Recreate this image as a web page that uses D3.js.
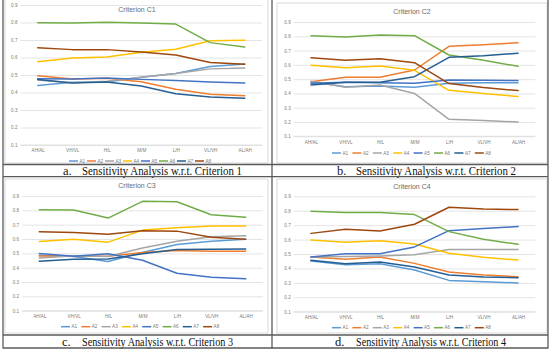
<!DOCTYPE html>
<html><head><meta charset="utf-8">
<script src="https://cdn.jsdelivr.net/npm/d3@7"></script>
<style>
body{margin:0;background:#fff;}
svg{display:block;}
</style></head>
<body>
<script>
// ---------- data ----------
const categories = ["AH/AL","VH/VL","H/L","M/M","L/H","VL/VH","AL/AH"];
const seriesNames = ["A1","A2","A3","A4","A5","A6","A7","A8"];
const seriesColors = ["#5B9BD5","#ED7D31","#A5A5A5","#FFC000","#4472C4","#70AD47","#255E91","#9E480E"];
const yTickValues = [0.1,0.2,0.3,0.4,0.5,0.6,0.7,0.8,0.9];
const chartTitles = ["Criterion C1","Criterion C2","Criterion C3","Criterion C4"];
const captionLetters = ["a.","b.","c.","d."];
const captionTexts = ["Sensitivity Analysis w.r.t. Criterion 1","Sensitivity Analysis w.r.t. Criterion 2",
                      "Sensitivity Analysis w.r.t. Criterion 3","Sensitivity Analysis w.r.t. Criterion 4"];

// values per criterion, one row per alternative A1..A8
const valuesC1 = [
  [0.440,0.458,0.460,0.487,0.508,0.548,0.563],
  [0.496,0.477,0.481,0.462,0.418,0.390,0.382],
  [0.472,0.456,0.464,0.487,0.508,0.535,0.540],
  [0.576,0.597,0.603,0.630,0.647,0.696,0.698],
  [0.479,0.477,0.483,0.475,0.468,0.460,0.454],
  [0.799,0.797,0.801,0.797,0.791,0.685,0.660],
  [0.474,0.454,0.460,0.437,0.393,0.374,0.367],
  [0.656,0.645,0.645,0.631,0.614,0.572,0.561]
];
const valuesC2 = [
  [0.482,0.447,0.452,0.443,0.471,0.475,0.475],
  [0.482,0.513,0.513,0.564,0.730,0.741,0.755],
  [0.485,0.443,0.459,0.400,0.219,0.210,0.200],
  [0.597,0.580,0.592,0.562,0.422,0.400,0.378],
  [0.471,0.478,0.475,0.471,0.494,0.492,0.490],
  [0.804,0.795,0.809,0.804,0.669,0.632,0.590],
  [0.459,0.478,0.478,0.517,0.653,0.664,0.681],
  [0.650,0.632,0.643,0.615,0.469,0.441,0.420]
];
const valuesC3 = [
  [0.487,0.478,0.443,0.506,0.562,0.585,0.599],
  [0.482,0.482,0.480,0.506,0.520,0.515,0.515],
  [0.468,0.483,0.478,0.538,0.585,0.615,0.622],
  [0.583,0.599,0.578,0.662,0.678,0.690,0.690],
  [0.499,0.480,0.497,0.452,0.361,0.333,0.322],
  [0.804,0.802,0.746,0.863,0.860,0.769,0.751],
  [0.445,0.459,0.461,0.497,0.527,0.529,0.531],
  [0.650,0.646,0.634,0.657,0.655,0.613,0.599]
];
const valuesC4 = [
  [0.451,0.426,0.433,0.389,0.317,0.308,0.299],
  [0.479,0.463,0.479,0.435,0.375,0.354,0.343],
  [0.479,0.482,0.486,0.495,0.532,0.532,0.532],
  [0.597,0.581,0.592,0.569,0.505,0.477,0.458],
  [0.479,0.502,0.502,0.549,0.662,0.676,0.690],
  [0.796,0.787,0.787,0.773,0.655,0.602,0.567],
  [0.456,0.433,0.445,0.410,0.354,0.340,0.336],
  [0.643,0.671,0.660,0.706,0.824,0.812,0.808]
];
const allValues = [valuesC1, valuesC2, valuesC3, valuesC4];

// ---------- layout ----------
const W = 550, H = 352;
const layouts = [
  {box:[5,-2,268,163], x0:20.5, x1:262, yTop:5, yBot:145, titleY:10, titleX:137, legY:161, legX:69, legPitch:18, capY:174.8, capLetterX:63, capTextX:82, capLen:160},
  {box:[277,3,547,163], x0:293.7, x1:535.3, yTop:22, yBot:136.3, titleY:12, titleX:412, legY:153, legX:332, legPitch:20.4, capY:174.8, capLetterX:337, capTextX:356, capLen:160},
  {box:[5,179,268,333], x0:22.1, x1:262.9, yTop:196, yBot:310.7, titleY:186, titleX:137, legY:326.7, legX:61, legPitch:20.3, capY:345.8, capLetterX:62, capTextX:82, capLen:151},
  {box:[277,179,547,333], x0:293.7, x1:535.3, yTop:196.3, yBot:311.7, titleY:187, titleX:412, legY:327.7, legX:332, legPitch:20.4, capY:345.8, capLetterX:335, capTextX:356, capLen:150}
];

const svg = d3.select("body").append("svg").attr("width",W).attr("height",H);
svg.append("rect").attr("width",W).attr("height",H).attr("fill","#fff");

const chartFont = "'Liberation Sans', Arial, sans-serif";
const textGray = "#7a7a7a";

layouts.forEach((L, i) => {
  const g = svg.append("g");
  // chart frame
  g.append("rect").attr("x",L.box[0]).attr("y",L.box[1])
    .attr("width",L.box[2]-L.box[0]).attr("height",L.box[3]-L.box[1])
    .attr("fill","#fff").attr("stroke","#d9d9d9").attr("stroke-width",1);

  const x = d3.scalePoint().domain(categories).range([L.x0, L.x1]).padding(0.5);
  const y = d3.scaleLinear().domain([0.1,0.9]).range([L.yBot, L.yTop]);

  // y axis with gridlines
  const ya = g.append("g").attr("transform",`translate(${L.x0},0)`)
    .call(d3.axisLeft(y).tickValues(yTickValues).tickFormat(d3.format(".1f"))
      .tickSize(-(L.x1-L.x0)).tickPadding(3));
  ya.select(".domain").remove();
  ya.selectAll("line").attr("stroke","#d9d9d9").attr("stroke-width",0.7);
  ya.selectAll("text").attr("fill",textGray).style("font-family",chartFont).style("font-size","4.6px");

  // x axis
  const xa = g.append("g").attr("transform",`translate(0,${L.yBot})`)
    .call(d3.axisBottom(x).tickSize(0).tickPadding(4));
  xa.select(".domain").attr("stroke","#d9d9d9").attr("stroke-width",0.7)
    .attr("d",`M${L.x0},0H${L.x1}`);
  xa.selectAll("text").attr("fill",textGray).style("font-family",chartFont).style("font-size","4.6px");

  // title
  g.append("text").attr("x",L.titleX).attr("y",L.titleY).attr("dy","0.35em")
    .attr("text-anchor","middle").attr("fill","#6a6a6a")
    .style("font-family",chartFont).style("font-size","7px").text(chartTitles[i]);

  // lines
  const line = d3.line().x((d,k)=>x(categories[k])).y(d=>y(d));
  allValues[i].forEach((vals, s) => {
    g.append("path").datum(vals).attr("d",line).attr("fill","none")
      .attr("stroke",seriesColors[s]).attr("stroke-width",1.5)
      .attr("stroke-linejoin","round").attr("stroke-linecap","round");
  });

  // legend
  seriesNames.forEach((nm, s) => {
    const lx = L.legX + s*L.legPitch;
    g.append("line").attr("x1",lx).attr("x2",lx+9).attr("y1",L.legY).attr("y2",L.legY)
      .attr("stroke",seriesColors[s]).attr("stroke-width",1.5);
    g.append("text").attr("x",lx+10.5).attr("y",L.legY).attr("dy","0.35em")
      .attr("fill",textGray).style("font-family",chartFont).style("font-size","4.6px").text(nm);
  });

  // caption
  g.append("text").attr("x",L.capLetterX).attr("y",L.capY).attr("fill","#111")
    .style("font-family","'Liberation Serif','DejaVu Serif',serif").style("font-size","12.5px")
    .text(captionLetters[i]);
  g.append("text").attr("x",L.capTextX).attr("y",L.capY).attr("fill","#111")
    .attr("textLength",L.capLen).attr("lengthAdjust","spacingAndGlyphs")
    .style("font-family","'Liberation Serif','DejaVu Serif',serif").style("font-size","12.5px")
    .text(captionTexts[i]);
});

// table borders
const border = svg.append("g").attr("stroke","#5a5a5a").attr("stroke-width",1.3);
[3,272,548].forEach(xv => border.append("line").attr("x1",xv).attr("x2",xv).attr("y1",0).attr("y2",348.5));
[164.5,176.7,335,348].forEach(yv => border.append("line").attr("x1",3).attr("x2",548).attr("y1",yv).attr("y2",yv));
</script>
</body></html>
